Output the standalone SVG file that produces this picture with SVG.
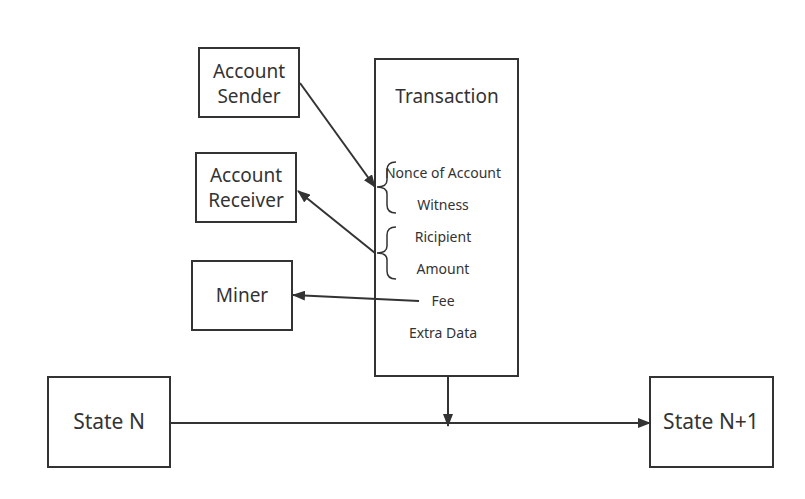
<svg xmlns="http://www.w3.org/2000/svg" width="805" height="499" viewBox="0 0 805 499">
<defs>
<style>
.box{fill:#fff;stroke:#333;stroke-width:2}
.t{font-family:"Noto Sans","Open Sans","DejaVu Sans",sans-serif;fill:#333;text-anchor:middle}
.big{font-size:19px}
.st{font-size:21px}
.sm{font-size:14px}
.ln{fill:none;stroke:#333;stroke-width:2}
.br{fill:none;stroke:#333;stroke-width:1.5}
</style>
<marker id="ah" markerWidth="13" markerHeight="10" refX="12" refY="5" orient="auto" markerUnits="userSpaceOnUse">
<path d="M0,0 L13,5 L0,10 Z" fill="#333"/>
</marker>
</defs>
<rect width="805" height="499" fill="#fff"/>
<g id="sender"><rect class="box" x="199" y="48" width="100" height="69"/><text class="t big" x="249" y="78">Account</text><text class="t big" x="249" y="103">Sender</text></g>
<g id="receiver"><rect class="box" x="196" y="153" width="100" height="69"/><text class="t big" x="246" y="182">Account</text><text class="t big" x="246" y="207">Receiver</text></g>
<g id="miner"><rect class="box" x="192" y="261" width="100" height="69"/><text class="t big" x="242" y="302">Miner</text></g>
<g id="transaction"><rect class="box" x="375" y="59" width="143" height="317"/>
<text class="t" style="font-size:19px" x="447" y="103">Transaction</text>
<text class="t sm" x="443" y="178">Nonce of Account</text>
<text class="t sm" x="443" y="210">Witness</text>
<text class="t sm" x="443" y="242">Ricipient</text>
<text class="t sm" x="443" y="274">Amount</text>
<text class="t sm" x="443" y="306">Fee</text>
<text class="t sm" x="443" y="338">Extra Data</text>
<path class="br" d="M396,162 Q387,162 387,170 L387,180 Q387,187 377,187 Q387,187 387,194 L387,205 Q387,213 396,213"/>
<path class="br" d="M396,227 Q387,227 387,235 L387,246 Q387,253 377,253 Q387,253 387,260 L387,271 Q387,279 396,279"/>
</g>
<g id="staten"><rect class="box" x="48" y="377" width="122" height="90"/><text class="t st" x="109" y="429">State N</text></g>
<g id="staten1"><rect class="box" x="650" y="377" width="123" height="90"/><text class="t st" x="711" y="429">State N+1</text></g>
<g id="connectors">
<line class="ln" x1="300" y1="83" x2="375" y2="187" marker-end="url(#ah)"/>
<line class="ln" x1="375" y1="253" x2="298" y2="191" marker-end="url(#ah)"/>
<line class="ln" x1="419" y1="301" x2="293" y2="295" marker-end="url(#ah)"/>
<line class="ln" x1="448" y1="376" x2="448" y2="426" marker-end="url(#ah)"/>
<line class="ln" x1="170" y1="423" x2="650" y2="423" marker-end="url(#ah)"/>
</g>
</svg>
